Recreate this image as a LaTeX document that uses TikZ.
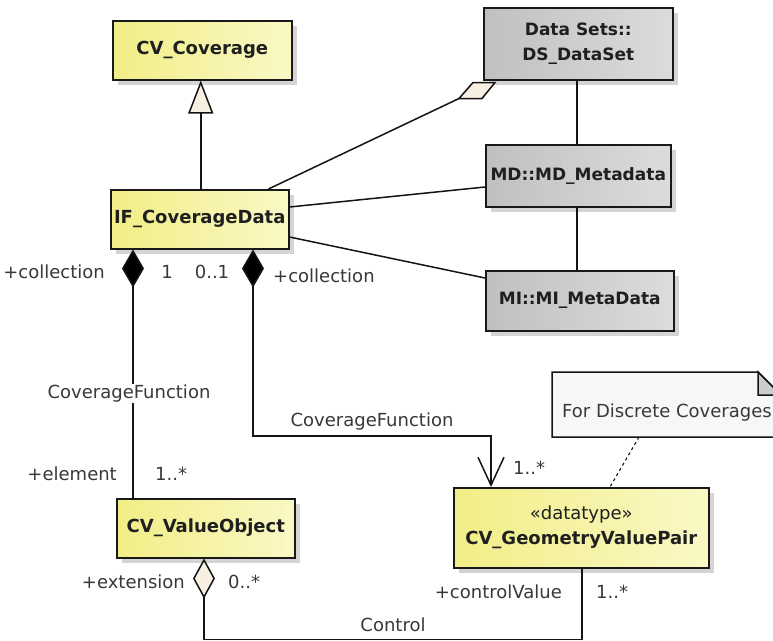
\documentclass[tikz,border=0pt]{standalone}
\usepackage{fontspec}
\setmainfont{DejaVu Sans}
\usetikzlibrary{arrows.meta,shadows,calc}
\definecolor{ylwA}{HTML}{F1EE86}
\definecolor{ylwB}{HTML}{FAF8C6}
\definecolor{gryA}{HTML}{C0C0C0}
\definecolor{gryB}{HTML}{DCDCDC}
\definecolor{lbl}{HTML}{383838}
\definecolor{beige}{HTML}{F7F0E2}
\definecolor{notefill}{HTML}{F7F6F9}
\begin{document}
\begin{tikzpicture}[x=1pt,y=-1pt,
  cls/.style={draw=black!90, line width=1.5pt, inner sep=0pt, anchor=north west,
    font=\fontsize{18}{25}\selectfont\bfseries, text=black!88, align=center,
    drop shadow={shadow xshift=5pt, shadow yshift=-5pt, opacity=0.3, fill=black!55}},
  ycls/.style={cls, left color=ylwA, right color=ylwB},
  gcls/.style={cls, left color=gryA, right color=gryB, font=\fontsize{17}{25}\selectfont\bfseries},
  lab/.style={text=lbl, inner sep=1pt, font=\fontsize{18}{21}\selectfont},
  conn/.style={line width=1.5pt, draw=black!92},
  comp/.style={{Diamond[length=38pt,width=22pt,fill=black]}-},
  aggr/.style={{Diamond[length=40pt,width=22pt,fill=beige]}-}]
\useasboundingbox (0,0) rectangle (773,640);
\fill[white] (0,0) rectangle (773,640);
\clip (0,0) rectangle (773,640);

% classes
\node[ycls, minimum width=179pt, minimum height=59pt] (cvc) at (112,20) {CV\_Coverage};
\node[ycls, minimum width=178pt, minimum height=59pt] (ifcd) at (110,189) {IF\_CoverageData};
\node[gcls, minimum width=189pt, minimum height=72pt] (ds) at (483,7) {Data Sets::\\DS\_DataSet};
\node[gcls, minimum width=185pt, minimum height=62pt] (md) at (485,144) {MD::MD\_Metadata};
\node[gcls, minimum width=188pt, minimum height=60pt] (mi) at (485,270) {MI::MI\_MetaData};
\node[ycls, minimum width=178pt, minimum height=59pt] (cvo) at (116,498) {CV\_ValueObject};
\node[ycls, minimum width=255pt, minimum height=80pt] (gvp) at (453,487) {{\mdseries «datatype»}\\CV\_GeometryValuePair};

% note
\fill[notefill] (552,372) -- (758,372) -- (781,395) -- (781,437) -- (552,437) -- cycle;
\draw[conn] (781,437) -- (552,437) -- (552,372) -- (758,372) -- (781,395);
\filldraw[conn, fill=black!20] (758,372) -- (758,395) -- (781,395) -- cycle;
\node[lab, anchor=west] (note) at (561,413) {For Discrete Coverages};
\coordinate (nb) at (639,437);
\draw[conn, line width=1.1pt, dash pattern=on 3pt off 3pt] (nb) -- ($(gvp.north west)+(157,0)$);

% generalization
\coordinate (g1) at ($(ifcd.north)+(1,0)$);
\draw[conn, -{Triangle[length=33pt,width=25pt,fill=beige]}] (g1) -- (g1 |- cvc.south);

% aggregation to DS_DataSet
\coordinate (dtip) at ($(ds.south west)+(-24,18)$);
\draw[conn] ($(ifcd.north east)+(-21,0)$) -- (dtip);
\filldraw[conn, fill=beige] (dtip) -- ++(23,0) -- ++(13,-16) -- ++(-22,0) -- cycle;

% associations
\draw[conn] ($(ifcd.north east)+(0,18)$) -- ($(md.north west)+(0,43)$);
\draw[conn] ($(ifcd.north east)+(0,48)$) -- ($(mi.north west)+(0,8)$);
\coordinate (vx) at (577,0);
\draw[conn] (ds.south -| vx) -- (md.north -| vx);
\draw[conn] (md.south -| vx) -- (mi.north -| vx);

% left composition
\coordinate (lx) at (133,0);
\draw[conn, comp] (ifcd.south -| lx) -- (cvo.north -| lx)
  node[lab, pos=0.58, fill=white, xshift=-4pt] (cf1) {CoverageFunction};
\node[lab, anchor=east] (lcoll) at (106,272) {+collection};
\node[lab] (lone) at (167,272) {1};
\node[lab] (rzero) at (212,272) {0..1};
\node[lab, anchor=west] (rcoll) at (272,276) {+collection};
\node[lab, anchor=east] (lelem) at (118,474) {+element};
\node[lab, anchor=west] (lmult) at (154,474) {1..*};

% right composition
\coordinate (rx) at (253,0);
\coordinate (cfc) at ($(gvp.north west)+(38,-51)$);
\draw[conn, {Diamond[length=38pt,width=22pt,fill=black]}-{Straight Barb[length=28pt,width=26pt]}]
  (ifcd.south -| rx) |- (cfc) -- (gvp.north -| cfc);
\node[lab] (cf2) at (372,422) {CoverageFunction};
\node[lab, anchor=west] (gmult) at (512,468) {1..*};

% control
\coordinate (cb) at ($(cvo.south west)+(88,81)$);
\coordinate (gx) at ($(gvp.south west)+(129,0)$);
\draw[conn, aggr] (cvo.south -| cb) -- (cb) -| (gx);
\node[lab, anchor=east] (ext) at (186,582) {+extension};
\node[lab, anchor=west] (extm) at (227,582) {0..*};
\node[lab] (ctrl) at (393,625) {Control};
\node[lab, anchor=east] (cval) at (563,592) {+controlValue};
\node[lab, anchor=west] (cvalm) at (595,592) {1..*};
\end{tikzpicture}
\end{document}
